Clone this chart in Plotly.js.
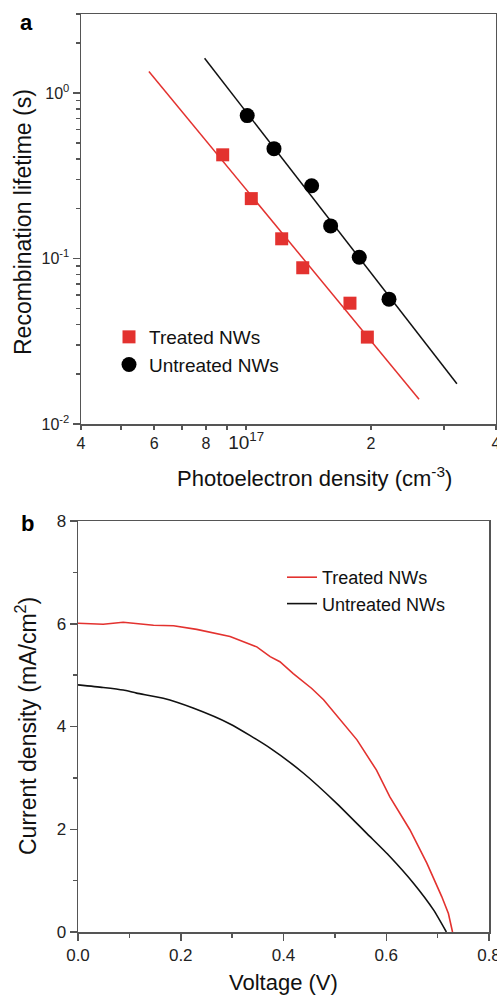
<!DOCTYPE html>
<html>
<head>
<meta charset="utf-8">
<script src="https://cdn.plot.ly/plotly-3.0.1.min.js"></script>
<style>html,body{margin:0;padding:0;background:#fff;}#chart{width:497px;height:998px;}</style>
</head>
<body>
<div id="chart"></div>
<script>
// ---- Panel a: recombination lifetime vs photoelectron density ----
var treatedDensity = [8.78e16, 1.029e17, 1.218e17, 1.369e17, 1.779e17, 1.959e17];
var treatedLifetime = [0.423, 0.230, 0.1315, 0.0879, 0.0537, 0.0335];
var untreatedDensity = [1.006e17, 1.167e17, 1.438e17, 1.598e17, 1.873e17, 2.209e17];
var untreatedLifetime = [0.730, 0.461, 0.275, 0.1574, 0.1018, 0.0568];
var treatedFitDensity = [5.83e16, 2.61e17];
var treatedFitLifetime = [1.35, 0.0141];
var untreatedFitDensity = [7.94e16, 3.22e17];
var untreatedFitLifetime = [1.62, 0.0175];
var densityTickVals = [4e16, 6e16, 8e16, 1e17, 2e17, 4e17];
var densityTickText = ['4', '6', '8', '<span style="font-size:19px">10<sup>17</sup></span>', '2', '4'];
var densityMinorVals = [5e16, 7e16, 9e16, 3e17];
var lifetimeTickVals = [0.01, 0.1, 1];
var lifetimeTickText = ['10<sup>-2</sup>', '10<sup>-1</sup>', '10<sup>0</sup>'];
var lifetimeMinorVals = [0.02,0.03,0.04,0.05,0.06,0.07,0.08,0.09,0.2,0.3,0.4,0.5,0.6,0.7,0.8,0.9,2,3];

// ---- Panel b: J-V curves ----
var treatedVoltage = [0, 0.049, 0.088, 0.147, 0.186, 0.231, 0.296, 0.348, 0.374, 0.393, 0.419, 0.455, 0.478, 0.513, 0.543, 0.581, 0.607, 0.646, 0.679, 0.708, 0.721, 0.729];
var treatedCurrent = [6.01, 5.99, 6.03, 5.97, 5.96, 5.89, 5.75, 5.55, 5.36, 5.26, 5.03, 4.74, 4.52, 4.11, 3.74, 3.15, 2.63, 1.99, 1.34, 0.69, 0.36, 0];
var untreatedVoltage = [0, 0.049, 0.088, 0.114, 0.166, 0.224, 0.296, 0.374, 0.439, 0.504, 0.562, 0.607, 0.653, 0.692, 0.717];
var untreatedCurrent = [4.81, 4.76, 4.71, 4.65, 4.55, 4.36, 4.05, 3.58, 3.09, 2.50, 1.92, 1.47, 0.95, 0.43, 0];

var RED = '#e3322f';
var FONT = 'Liberation Sans, Arial, sans-serif';
var AX = '#555555';

var traces = [
  {x: treatedFitDensity, y: treatedFitLifetime, mode: 'lines', line: {color: RED, width: 1.5}, showlegend: false, xaxis: 'x', yaxis: 'y', hoverinfo: 'skip'},
  {x: untreatedFitDensity, y: untreatedFitLifetime, mode: 'lines', line: {color: '#111', width: 1.5}, showlegend: false, xaxis: 'x', yaxis: 'y', hoverinfo: 'skip'},
  {x: treatedDensity, y: treatedLifetime, mode: 'markers', name: 'Treated NWs', marker: {symbol: 'square', size: 13, color: RED}, xaxis: 'x', yaxis: 'y', legend: 'legend'},
  {x: untreatedDensity, y: untreatedLifetime, mode: 'markers', name: 'Untreated NWs', marker: {symbol: 'circle', size: 15, color: '#000'}, xaxis: 'x', yaxis: 'y', legend: 'legend'},
  {x: treatedVoltage, y: treatedCurrent, mode: 'lines', name: 'Treated NWs', line: {color: RED, width: 1.6}, xaxis: 'x2', yaxis: 'y2', legend: 'legend2'},
  {x: untreatedVoltage, y: untreatedCurrent, mode: 'lines', name: 'Untreated NWs', line: {color: '#111', width: 1.6, shape: 'spline', smoothing: 0.6}, xaxis: 'x2', yaxis: 'y2', legend: 'legend2'}
];

function px(x) { return (x - 78) / 418; }
function py(y) { return (932 - y) / 918; }

var tickFontA = {family: FONT, size: 16, color: '#222'};
var tickFontB = {family: FONT, size: 17, color: '#222'};

var layout = {
  width: 497, height: 998,
  margin: {l: 78, r: 1, t: 14, b: 66},
  paper_bgcolor: '#fff', plot_bgcolor: '#fff',
  font: {family: FONT, color: '#111'},
  xaxis: {
    type: 'log', domain: [px(81), 1], anchor: 'y',
    range: [Math.log10(4e16), Math.log10(4e17)],
    tickmode: 'array', tickvals: densityTickVals, ticktext: densityTickText,
    ticks: 'outside', ticklen: 4, tickwidth: 1.5, tickcolor: AX, ticklabeloverflow: 'allow',
    minor: {tickmode: 'array', tickvals: densityMinorVals, ticks: 'outside', ticklen: 4, tickwidth: 1.5, tickcolor: AX, showgrid: false},
    showline: true, linecolor: AX, linewidth: 1.5, mirror: true,
    showgrid: false, zeroline: false, tickfont: tickFontA
  },
  yaxis: {
    type: 'log', domain: [py(424), 1], anchor: 'x',
    range: [-2, Math.log10(3)],
    tickmode: 'array', tickvals: lifetimeTickVals, ticktext: lifetimeTickText,
    ticks: 'outside', ticklen: 7, tickwidth: 1.5, tickcolor: AX, ticklabeloverflow: 'allow',
    minor: {tickmode: 'array', tickvals: lifetimeMinorVals, ticks: 'outside', ticklen: 4, tickwidth: 1.5, tickcolor: AX, showgrid: false},
    showline: true, linecolor: AX, linewidth: 1.5, mirror: true,
    showgrid: false, zeroline: false, tickfont: tickFontA
  },
  xaxis2: {
    domain: [0, px(489)], anchor: 'y2', range: [0, 0.8],
    tickmode: 'linear', tick0: 0, dtick: 0.2, tickformat: '.1f',
    ticks: 'outside', ticklen: 7, tickwidth: 1.5, tickcolor: AX, ticklabeloverflow: 'allow',
    minor: {dtick: 0.1, ticks: 'outside', ticklen: 4, tickwidth: 1.5, tickcolor: AX, showgrid: false},
    showline: true, linecolor: AX, linewidth: 1.5, mirror: true,
    showgrid: false, zeroline: false, tickfont: tickFontB
  },
  yaxis2: {
    domain: [0, py(521)], anchor: 'x2', range: [0, 8],
    tickmode: 'linear', tick0: 0, dtick: 2,
    ticks: 'outside', ticklen: 7, tickwidth: 1.5, tickcolor: AX, ticklabeloverflow: 'allow',
    minor: {dtick: 1, ticks: 'outside', ticklen: 4, tickwidth: 1.5, tickcolor: AX, showgrid: false},
    showline: true, linecolor: AX, linewidth: 1.5, mirror: true,
    showgrid: false, zeroline: false, tickfont: tickFontB
  },
  legend: {
    x: px(109), y: py(318), xanchor: 'left', yanchor: 'top',
    bgcolor: 'rgba(0,0,0,0)', borderwidth: 0,
    font: {family: FONT, size: 19, color: '#111'}, tracegroupgap: 0
  },
  legend2: {
    x: px(282), y: py(559), xanchor: 'left', yanchor: 'top',
    bgcolor: 'rgba(0,0,0,0)', borderwidth: 0,
    font: {family: FONT, size: 18, color: '#111'}
  },
  annotations: [
    {text: 'Photoelectron density (cm<sup>-3</sup>)', xref: 'paper', yref: 'paper', x: px(314), y: py(477), showarrow: false, xanchor: 'center', yanchor: 'middle', font: {family: FONT, size: 22, color: '#111'}},
    {text: 'Recombination lifetime (s)', xref: 'paper', yref: 'paper', x: px(23), y: py(222), showarrow: false, textangle: -90, xanchor: 'center', yanchor: 'middle', font: {family: FONT, size: 23, color: '#111'}},
    {text: 'Voltage (V)', xref: 'paper', yref: 'paper', x: px(283), y: py(997), showarrow: false, xanchor: 'center', yanchor: 'bottom', font: {family: FONT, size: 22, color: '#111'}},
    {text: 'Current density (mA/cm<sup>2</sup>)', xref: 'paper', yref: 'paper', x: px(26), y: py(726), showarrow: false, textangle: -90, xanchor: 'center', yanchor: 'middle', font: {family: FONT, size: 23, color: '#111'}},
    {text: '<b>a</b>', xref: 'paper', yref: 'paper', x: px(26), y: py(22), showarrow: false, xanchor: 'center', yanchor: 'middle', font: {family: FONT, size: 22, color: '#000'}},
    {text: '<b>b</b>', xref: 'paper', yref: 'paper', x: px(27), y: py(523), showarrow: false, xanchor: 'center', yanchor: 'middle', font: {family: FONT, size: 22, color: '#000'}}
  ]
};

Plotly.newPlot('chart', traces, layout, {displayModeBar: false, staticPlot: true});
</script>
</body>
</html>
